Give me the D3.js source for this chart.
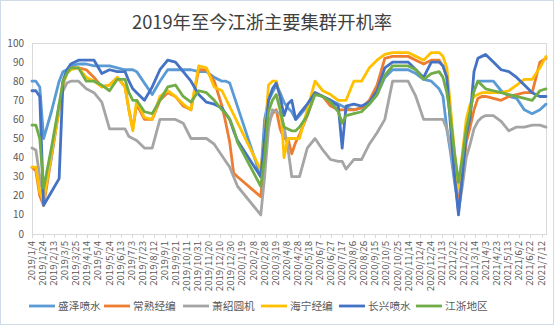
<!DOCTYPE html>
<html>
<head>
<meta charset="utf-8">
<script src="https://cdn.jsdelivr.net/npm/d3@7"></script>
<style>
  body { margin: 0; background: #fff; }
  svg { display: block; }
</style>
</head>
<body>
<div id="chart"></div>
<script>
// weekly sample dates (gap over the 2020 spring festival / lockdown)
var dates = [
  "2019/1/4","2019/1/11","2019/1/18","2019/1/25","2019/2/8","2019/2/22","2019/3/1","2019/3/8","2019/3/15","2019/3/29",
  "2019/4/12","2019/4/26","2019/5/10","2019/5/24","2019/6/7","2019/6/21","2019/6/28","2019/7/5","2019/7/12","2019/7/26",
  "2019/8/9","2019/8/23","2019/9/6","2019/9/20","2019/10/4","2019/10/18","2019/11/1","2019/11/15","2019/11/29","2019/12/13",
  "2019/12/20","2019/12/27","2020/1/3","2020/1/10","2020/2/21","2020/2/28","2020/3/6","2020/3/13","2020/3/20","2020/3/27",
  "2020/4/3","2020/4/10","2020/4/17","2020/4/24","2020/5/1","2020/5/15","2020/5/29","2020/6/12","2020/6/26","2020/7/10",
  "2020/7/17","2020/7/24","2020/8/7","2020/8/21","2020/9/4","2020/9/18","2020/10/2","2020/10/16","2020/10/30","2020/11/13",
  "2020/11/27","2020/12/11","2020/12/25","2021/1/8","2021/1/15","2021/1/22","2021/1/29","2021/2/5","2021/2/12","2021/2/19",
  "2021/2/26","2021/3/5","2021/3/12","2021/3/19","2021/3/26","2021/4/2","2021/4/16","2021/4/30","2021/5/14","2021/5/28",
  "2021/6/11","2021/6/25","2021/7/9","2021/7/20"
];

var shengze = [80,80,77,50,64,80,85,86,88,89, 89,88,88,88,87,86,86,86,85,79, 73,80,86,86,86,86,85,85,82,80,
  80,79,null,null,30,60,70,74,78,74, 69,66,64,60,62,67,74,72,70,68, 67,66,65,66,68,73,82,86,86,86,
  84,81,80,76,72,55,42,27,15,35, 52,64,75,80,80,80,80,75,72,71, 65,63,65,68];
var changshu = [35,33,20,15,40,65,80,85,87,87, 86,82,77,78,82,77,65,55,68,60, 60,70,74,72,67,65,86,86,80,67,
  58,48,32,30,19.5,40,58,63,65,55, 50,50,42,48,52,62,74,72,67,65, 65,65,65,66,70,78,92,93,93,93,
  91,89,91,91,88,82,60,35,13,30, 48,56,65,71,72,72,71,70,72,73, 74,74,90,92];
var xiaoshao = [45,44,30,19,40,68,75,79,80,80, 76,74,69,55,55,55,51,50,49,45, 45,60,60,60,58,50,50,50,47,41,
  38,35,30,25,10,30,55,65,64,63, 56,45,30,30,30,45,50,44,39,38, 38,34,39,39,47,53,60,80,80,80,
  72,60,60,60,60,55,45,30,12,25, 40,47,55,59,61,62,62,59,54,56, 56,57,57,56];
var haining = [35,35,22,17,42,65,78,84,86,87, 82,80,77,78,82,77,65,54,70,61, 60,72,75,72,68,65,88,87,77,75,
  null,null,null,null,33.5,50,78,80,80,72, 40,50,50,50,50,65,80,75,73,70, 70,70,80,80,87,91,94,95,95,95,
  93,91,95,95,93,87,65,42,24,42, 60,68,72,73,74,74,74,74,75,78, 81,81,87,93];
var changxing = [75,75,72,15,22,29,80,86,89,91, 91,91,84,86,85,85,80,76,74,70, 77,86,91,90,85,80,73,69,68,66,
  63,60,54,49,30,50,70,76,79,72, 62,68,70,60,63,68,74,72,70,67, 45,67,68,67,69,75,87,90,90,90,
  86,82,90,90,88,82,55,30,10,30, 52,61,85,92,93,94,90,86,85,82, 78,74,72,72];
var jiangzhe = [57,57,50,24,45,68,80,84,87,87, 80,80,78,75,81,81,74,70,70,64, 63,70,77,78,72,69,75,74,70,65,
  63,60,55,48,25,40,64,70,73,65, 56,55,54,54,56,62,73,72,69,64, 58,62,63,64,68,73,83,88,88,88,
  86,81,84,85,82,74,60,42,27,40, 55,64,75,80,78,76,75,74,73,72, 71,70,75,76];

var seriesNames = ["盛泽喷水","常熟经编","萧绍圆机","海宁经编","长兴喷水","江浙地区"];
var seriesValues = [shengze, changshu, xiaoshao, haining, changxing, jiangzhe];
var seriesColors = ["#5B9BD5","#ED7D31","#A5A5A5","#FFC000","#4472C4","#70AD47"];

var yTicks = [0,10,20,30,40,50,60,70,80,90,100];
var xTickLabels = [
  "2019/1/4","2019/1/24","2019/2/13","2019/3/5","2019/3/25","2019/4/14","2019/5/4","2019/5/24","2019/6/13","2019/7/3",
  "2019/7/23","2019/8/12","2019/9/1","2019/9/21","2019/10/11","2019/10/31","2019/11/20","2019/12/10","2019/12/30","2020/1/19",
  "2020/2/8","2020/2/28","2020/3/19","2020/4/8","2020/4/28","2020/5/18","2020/6/7","2020/6/27","2020/7/17","2020/8/6",
  "2020/8/26","2020/9/15","2020/10/5","2020/10/25","2020/11/14","2020/12/4","2020/12/24","2021/1/13","2021/2/2","2021/2/22",
  "2021/3/14","2021/4/3","2021/4/23","2021/5/13","2021/6/2","2021/6/22","2021/7/12"
];

(function() {
  var width = 556, height = 327;
  var plotL = 32, plotR = 546, plotT = 43, plotB = 234;
  var parse = d3.timeParse("%Y/%m/%d");
  var font = "'Noto Sans CJK SC', 'Noto Sans', sans-serif";

  var svg = d3.select("#chart").append("svg")
    .attr("width", width)
    .attr("height", height);

  // chart area border
  svg.append("rect")
    .attr("x", 0.5).attr("y", 0.5)
    .attr("width", 553).attr("height", 324)
    .attr("fill", "#fff")
    .attr("stroke", "#cfdbe9");

  var x = d3.scaleTime()
    .domain([parse(dates[0]), parse(dates[dates.length - 1])])
    .range([plotL, plotR]);
  var y = d3.scaleLinear().domain([0, 100]).range([plotB, plotT]);

  // plot area frame
  svg.append("rect")
    .attr("x", plotL + 0.5).attr("y", plotT + 0.5)
    .attr("width", plotR - plotL).attr("height", plotB - plotT)
    .attr("fill", "none")
    .attr("stroke", "#d9d9d9");

  // y labels
  svg.append("g").selectAll("text")
    .data(yTicks)
    .enter().append("text")
    .attr("x", plotL - 8)
    .attr("y", d => y(d))
    .attr("dy", "0.35em")
    .attr("text-anchor", "end")
    .attr("font-family", font)
    .attr("font-size", 10)
    .attr("fill", "#595959")
    .text(d => d);

  // x ticks + rotated labels
  var xg = svg.append("g");
  xg.selectAll("line.tick")
    .data(xTickLabels)
    .enter().append("line")
    .attr("class", "tick")
    .attr("x1", d => Math.round(x(parse(d))) + 0.5)
    .attr("x2", d => Math.round(x(parse(d))) + 0.5)
    .attr("y1", plotB).attr("y2", plotB + 4)
    .attr("stroke", "#d9d9d9");
  xg.selectAll("text")
    .data(xTickLabels)
    .enter().append("text")
    .attr("transform", d => "translate(" + (x(parse(d)) + 3) + "," + (plotB + 7) + ") rotate(-90)")
    .attr("text-anchor", "end")
    .attr("font-family", font)
    .attr("font-size", 9.6)
    .attr("fill", "#595959")
    .text(d => d);

  // series lines
  var line = d3.line()
    .x(d => x(d.date))
    .y(d => y(d.v));

  seriesValues.forEach(function(vals, i) {
    var pts = dates.map((d, j) => ({ date: parse(d), v: vals[j] }))
      .filter(p => p.v != null);
    svg.append("path")
      .datum(pts)
      .attr("fill", "none")
      .attr("stroke", seriesColors[i])
      .attr("stroke-width", 2.8)
      .attr("stroke-linejoin", "round")
      .attr("stroke-linecap", "round")
      .attr("d", line);
  });

  // title
  svg.append("text")
    .attr("x", 262).attr("y", 29)
    .attr("text-anchor", "middle")
    .attr("font-family", font)
    .attr("font-size", 18.3)
    .attr("fill", "#404040")
    .text("2019年至今江浙主要集群开机率");

  // legend
  var legendX = [29, 104, 183, 261, 339, 416];
  var lg = svg.append("g");
  seriesNames.forEach(function(name, i) {
    lg.append("line")
      .attr("x1", legendX[i]).attr("x2", legendX[i] + 26)
      .attr("y1", 306).attr("y2", 306)
      .attr("stroke", seriesColors[i])
      .attr("stroke-width", 2.8);
    lg.append("text")
      .attr("x", legendX[i] + 29).attr("y", 306)
      .attr("dy", "0.35em")
      .attr("font-family", font)
      .attr("font-size", 10.7)
      .attr("fill", "#595959")
      .text(name);
  });
})();
</script>
</body>
</html>
